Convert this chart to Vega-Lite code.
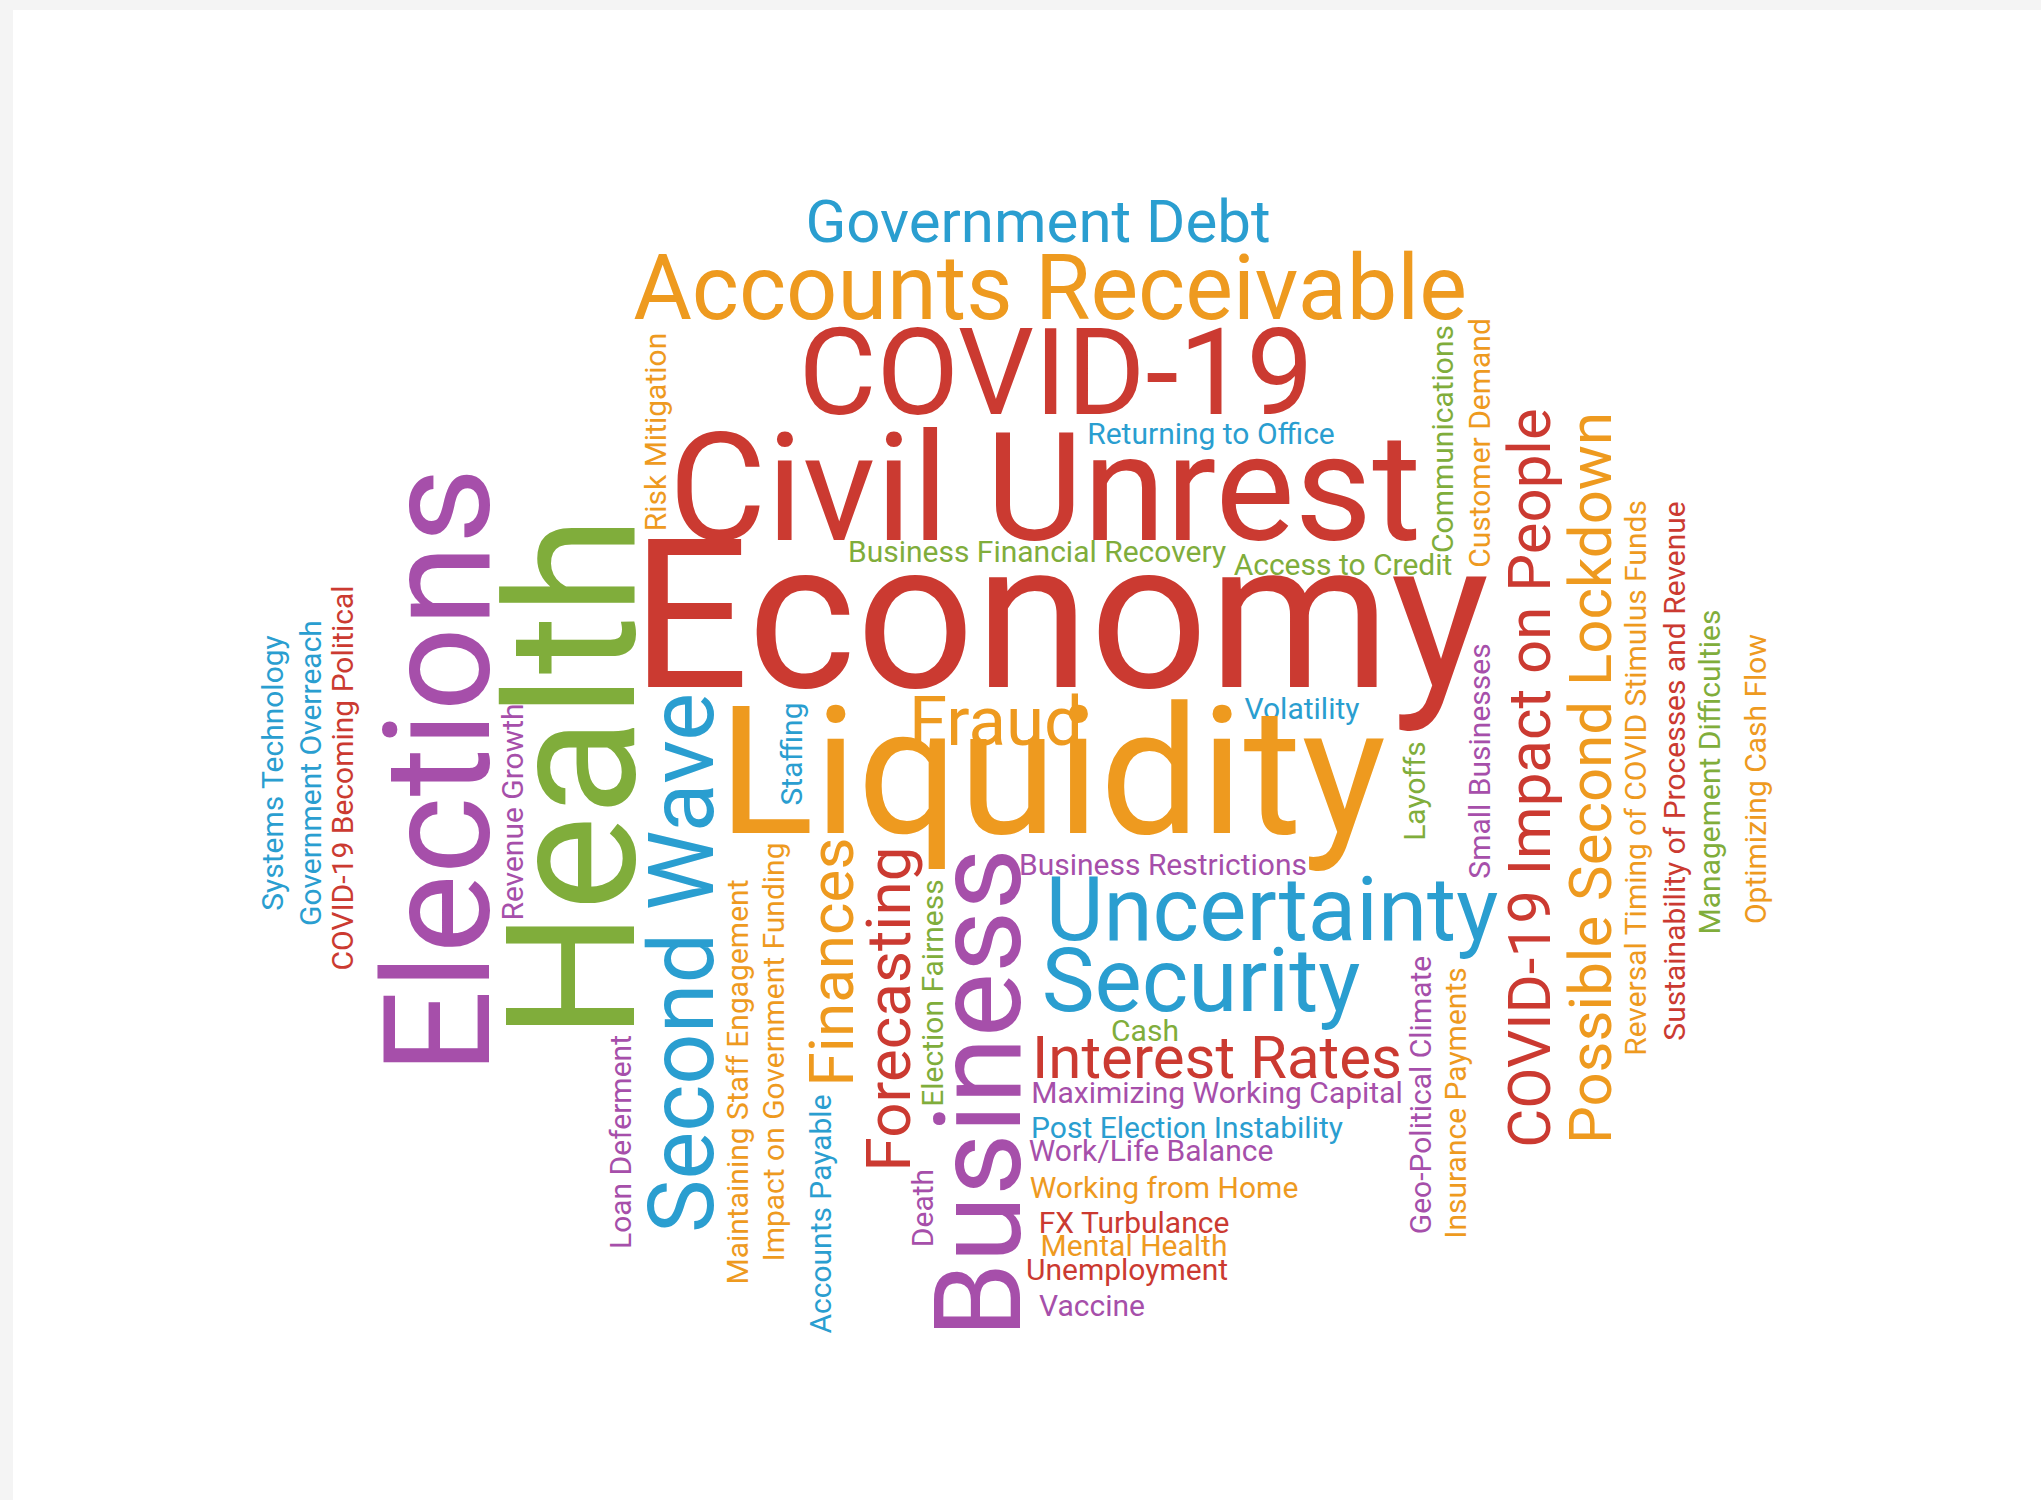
{
  "$schema": "https://vega.github.io/schema/vega-lite/v6.json",
  "width": 2041,
  "height": 1500,
  "autosize": {"type": "fit", "contains": "padding"},
  "padding": {"left": 13, "top": 10, "right": 0, "bottom": 0},
  "background": "#f4f4f4",
  "config": {"view": {"fill": "white", "stroke": null}},
  "data": {
    "values": [
      {"word": "Government Debt", "x": 1038, "y": 242, "frequency": 60, "orientation": "horizontal", "group": "blue"},
      {"word": "Accounts Receivable", "x": 1050, "y": 319, "frequency": 90, "orientation": "horizontal", "group": "orange"},
      {"word": "COVID-19", "x": 1056, "y": 414, "frequency": 120, "orientation": "horizontal", "group": "red"},
      {"word": "Returning to Office", "x": 1211, "y": 444, "frequency": 30, "orientation": "horizontal", "group": "blue"},
      {"word": "Civil Unrest", "x": 1045, "y": 540, "frequency": 150, "orientation": "horizontal", "group": "red"},
      {"word": "Business Financial Recovery", "x": 1037, "y": 562, "frequency": 30, "orientation": "horizontal", "group": "green"},
      {"word": "Access to Credit", "x": 1343, "y": 575, "frequency": 30, "orientation": "horizontal", "group": "green"},
      {"word": "Economy", "x": 1060, "y": 687, "frequency": 208, "orientation": "horizontal", "group": "red"},
      {"word": "Fraud", "x": 996, "y": 745, "frequency": 69, "orientation": "horizontal", "group": "orange"},
      {"word": "Volatility", "x": 1302, "y": 719, "frequency": 30, "orientation": "horizontal", "group": "blue"},
      {"word": "Liquidity", "x": 1052, "y": 833, "frequency": 178, "orientation": "horizontal", "group": "orange"},
      {"word": "Business Restrictions", "x": 1163, "y": 875, "frequency": 30, "orientation": "horizontal", "group": "purple"},
      {"word": "Uncertainty", "x": 1272, "y": 940, "frequency": 89, "orientation": "horizontal", "group": "blue"},
      {"word": "Security", "x": 1201, "y": 1011, "frequency": 89, "orientation": "horizontal", "group": "blue"},
      {"word": "Cash", "x": 1145, "y": 1041, "frequency": 30, "orientation": "horizontal", "group": "green"},
      {"word": "Interest Rates", "x": 1217, "y": 1078, "frequency": 60, "orientation": "horizontal", "group": "red"},
      {"word": "Maximizing Working Capital", "x": 1217, "y": 1103, "frequency": 30, "orientation": "horizontal", "group": "purple"},
      {"word": "Post Election Instability", "x": 1187, "y": 1138, "frequency": 30, "orientation": "horizontal", "group": "blue"},
      {"word": "Work/Life Balance", "x": 1151, "y": 1161, "frequency": 30, "orientation": "horizontal", "group": "purple"},
      {"word": "Working from Home", "x": 1164, "y": 1198, "frequency": 30, "orientation": "horizontal", "group": "orange"},
      {"word": "FX Turbulance", "x": 1134, "y": 1233, "frequency": 30, "orientation": "horizontal", "group": "red"},
      {"word": "Mental Health", "x": 1134, "y": 1256, "frequency": 30, "orientation": "horizontal", "group": "orange"},
      {"word": "Unemployment", "x": 1127, "y": 1280, "frequency": 30, "orientation": "horizontal", "group": "red"},
      {"word": "Vaccine", "x": 1092, "y": 1316, "frequency": 30, "orientation": "horizontal", "group": "purple"},
      {"word": "Elections", "x": 489, "y": 771, "frequency": 149, "orientation": "vertical", "group": "purple"},
      {"word": "Health", "x": 634, "y": 778, "frequency": 180, "orientation": "vertical", "group": "green"},
      {"word": "Second Wave", "x": 713, "y": 963, "frequency": 90, "orientation": "vertical", "group": "blue"},
      {"word": "Systems Technology", "x": 283, "y": 773, "frequency": 30, "orientation": "vertical", "group": "blue"},
      {"word": "Government Overreach", "x": 321, "y": 773, "frequency": 30, "orientation": "vertical", "group": "blue"},
      {"word": "COVID-19 Becoming Political", "x": 353, "y": 778, "frequency": 30, "orientation": "vertical", "group": "red"},
      {"word": "Revenue Growth", "x": 523, "y": 812, "frequency": 30, "orientation": "vertical", "group": "purple"},
      {"word": "Loan Deferment", "x": 631, "y": 1142, "frequency": 30, "orientation": "vertical", "group": "purple"},
      {"word": "Risk Mitigation", "x": 666, "y": 432, "frequency": 30, "orientation": "vertical", "group": "orange"},
      {"word": "Maintaining Staff Engagement", "x": 748, "y": 1082, "frequency": 30, "orientation": "vertical", "group": "orange"},
      {"word": "Impact on Government Funding", "x": 784, "y": 1052, "frequency": 30, "orientation": "vertical", "group": "orange"},
      {"word": "Staffing", "x": 802, "y": 754, "frequency": 30, "orientation": "vertical", "group": "blue"},
      {"word": "Accounts Payable", "x": 831, "y": 1214, "frequency": 30, "orientation": "vertical", "group": "blue"},
      {"word": "Finances", "x": 853, "y": 962, "frequency": 62, "orientation": "vertical", "group": "orange"},
      {"word": "Forecasting", "x": 910, "y": 1009, "frequency": 62, "orientation": "vertical", "group": "red"},
      {"word": "Election Fairness", "x": 943, "y": 993, "frequency": 30, "orientation": "vertical", "group": "green"},
      {"word": "Death", "x": 933, "y": 1208, "frequency": 30, "orientation": "vertical", "group": "purple"},
      {"word": "Business", "x": 1020, "y": 1093, "frequency": 121, "orientation": "vertical", "group": "purple"},
      {"word": "Layoffs", "x": 1425, "y": 791, "frequency": 30, "orientation": "vertical", "group": "green"},
      {"word": "Geo-Political Climate", "x": 1431, "y": 1095, "frequency": 30, "orientation": "vertical", "group": "purple"},
      {"word": "Insurance Payments", "x": 1466, "y": 1103, "frequency": 30, "orientation": "vertical", "group": "orange"},
      {"word": "Communications", "x": 1453, "y": 439, "frequency": 30, "orientation": "vertical", "group": "green"},
      {"word": "Customer Demand", "x": 1490, "y": 443, "frequency": 30, "orientation": "vertical", "group": "orange"},
      {"word": "Small Businesses", "x": 1490, "y": 761, "frequency": 30, "orientation": "vertical", "group": "purple"},
      {"word": "COVID-19 Impact on People", "x": 1550, "y": 778, "frequency": 60, "orientation": "vertical", "group": "red"},
      {"word": "Possible Second Lockdown", "x": 1611, "y": 778, "frequency": 60, "orientation": "vertical", "group": "orange"},
      {"word": "Reversal Timing of COVID Stimulus Funds", "x": 1646, "y": 778, "frequency": 30, "orientation": "vertical", "group": "orange"},
      {"word": "Sustainability of Processes and Revenue", "x": 1685, "y": 771, "frequency": 30, "orientation": "vertical", "group": "red"},
      {"word": "Management Difficulties", "x": 1720, "y": 772, "frequency": 30, "orientation": "vertical", "group": "green"},
      {"word": "Optimizing Cash Flow", "x": 1766, "y": 779, "frequency": 30, "orientation": "vertical", "group": "orange"}
    ]
  },
  "mark": {"type": "text", "font": "Roboto", "align": "center", "baseline": "alphabetic"},
  "encoding": {
    "x": {"field": "x", "type": "quantitative", "scale": {"domain": [13, 2041], "nice": false, "zero": false}, "axis": null},
    "y": {"field": "y", "type": "quantitative", "scale": {"domain": [10, 1500], "nice": false, "zero": false, "reverse": true}, "axis": null},
    "text": {"field": "word"},
    "size": {"field": "frequency", "type": "quantitative", "scale": {"type": "linear", "domain": [0, 200], "range": [0, 200], "zero": true}, "legend": null},
    "angle": {"field": "orientation", "type": "nominal", "scale": {"domain": ["horizontal", "vertical"], "range": [0, 270]}, "legend": null},
    "color": {"field": "group", "type": "nominal", "scale": {"domain": ["red", "orange", "blue", "green", "purple"], "range": ["#cb3a31", "#ee9a1f", "#2a9ed0", "#80ad3b", "#a64faa"]}, "legend": null}
  }
}
